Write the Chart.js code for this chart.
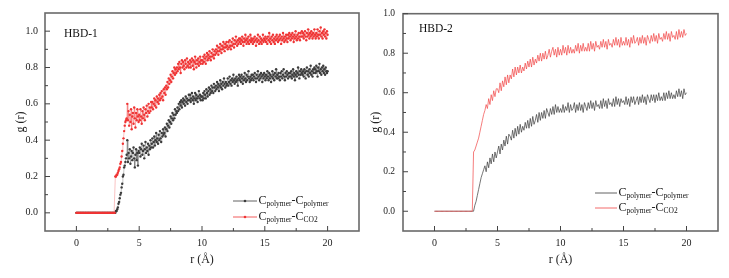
<!DOCTYPE html>
<html>
<head>
<meta charset="utf-8">
<script src="https://cdn.jsdelivr.net/npm/chart.js@4.4.1/dist/chart.umd.min.js"></script>
<style>
html, body { margin: 0; padding: 0; background: #fff; }
#wrap { position: relative; width: 729px; height: 278px; }
canvas { position: absolute; top: 0; }
#c1 { left: 0; }
#c2 { left: 365px; }
</style>
</head>
<body>
<div id="wrap">
<canvas id="c1" width="365" height="278"></canvas>
<canvas id="c2" width="364" height="278"></canvas>
</div>
<script>
// g(r). HBD-1: one value every 0.05 A, HBD-2: every 0.1 A, from r = 0 to 20
const rStep1 = 0.05;
const rStep2 = 0.1;

const hbd1Poly = [
  0,0,0,0,0,0,0,0,0,0, 0,0,0,0,0,0,0,0,0,0, 0,0,0,0,0,0,0,0,0,0,
  0,0,0,0,0,0,0,0,0,0, 0,0,0,0,0,0,0,0,0,0, 0,0,0,0,0,0,0,0,0,0,
  0,0,0.00,0.01,0.01,0.02,0.03,0.05,0.06,0.08,0.10,0.11,0.14,0.16,0.20,0.21,0.25,0.26,0.28,0.30,
  0.32,0.40,0.28,0.33,0.30,0.35,0.27,0.31,0.34,0.29,0.33,0.36,0.30,0.25,0.32,0.35,0.29,0.33,0.26,0.34,
  0.33,0.36,0.31,0.35,0.38,0.32,0.34,0.37,0.30,0.35,0.39,0.33,0.36,0.34,0.38,0.32,0.37,0.35,0.40,0.36,
  0.38,0.41,0.36,0.39,0.42,0.37,0.40,0.44,0.39,0.41,0.38,0.43,0.40,0.45,0.41,0.39,0.44,0.42,0.46,0.43,
  0.44,0.47,0.42,0.46,0.49,0.45,0.48,0.51,0.47,0.50,0.53,0.49,0.52,0.55,0.51,0.54,0.52,0.57,0.54,0.56,
  0.55,0.58,0.56,0.60,0.57,0.61,0.59,0.62,0.58,0.61,0.63,0.60,0.62,0.59,0.64,0.61,0.63,0.60,0.62,0.65,
  0.62,0.65,0.61,0.63,0.66,0.62,0.64,0.60,0.63,0.66,0.62,0.65,0.63,0.61,0.64,0.67,0.63,0.65,0.62,0.64,
  0.64,0.62,0.66,0.63,0.67,0.65,0.63,0.68,0.66,0.64,0.67,0.69,0.65,0.68,0.66,0.70,0.67,0.69,0.66,0.71,
  0.69,0.67,0.70,0.68,0.72,0.69,0.71,0.67,0.70,0.73,0.69,0.71,0.68,0.72,0.70,0.74,0.71,0.69,0.72,0.70,
  0.71,0.74,0.70,0.72,0.75,0.71,0.73,0.70,0.74,0.72,0.76,0.73,0.71,0.74,0.72,0.75,0.73,0.70,0.74,0.76,
  0.73,0.75,0.72,0.76,0.74,0.71,0.75,0.73,0.77,0.74,0.72,0.76,0.73,0.75,0.78,0.74,0.72,0.75,0.73,0.76,
  0.74,0.76,0.73,0.75,0.77,0.74,0.72,0.76,0.74,0.78,0.75,0.73,0.76,0.74,0.77,0.75,0.72,0.76,0.74,0.77,
  0.75,0.73,0.76,0.74,0.78,0.75,0.73,0.77,0.74,0.76,0.72,0.75,0.78,0.74,0.76,0.73,0.77,0.75,0.79,0.74,
  0.76,0.74,0.77,0.75,0.73,0.77,0.75,0.78,0.74,0.76,0.79,0.75,0.73,0.77,0.75,0.78,0.76,0.74,0.77,0.75,
  0.77,0.75,0.78,0.74,0.76,0.79,0.75,0.77,0.73,0.76,0.78,0.75,0.77,0.80,0.76,0.74,0.78,0.76,0.79,0.77,
  0.76,0.78,0.75,0.79,0.77,0.74,0.78,0.80,0.76,0.78,0.75,0.79,0.77,0.81,0.76,0.78,0.75,0.79,0.77,0.80,
  0.79,0.77,0.81,0.78,0.75,0.80,0.78,0.82,0.77,0.79,0.76,0.80,0.78,0.81,0.77,0.79,0.76,0.80,0.78,0.77,
  0.78
];

const hbd1CO2 = [
  0,0,0,0,0,0,0,0,0,0, 0,0,0,0,0,0,0,0,0,0, 0,0,0,0,0,0,0,0,0,0,
  0,0,0,0,0,0,0,0,0,0, 0,0,0,0,0,0,0,0,0,0, 0,0,0,0,0,0,0,0,0,0,
  0,0,0.20,0.20,0.21,0.21,0.22,0.23,0.24,0.25,0.27,0.28,0.31,0.34,0.38,0.41,0.45,0.48,0.50,0.51,
  0.52,0.60,0.51,0.56,0.48,0.54,0.50,0.57,0.46,0.53,0.55,0.49,0.58,0.52,0.47,0.55,0.51,0.57,0.53,0.50,
  0.54,0.51,0.57,0.53,0.49,0.56,0.52,0.58,0.54,0.51,0.57,0.55,0.59,0.53,0.56,0.60,0.55,0.58,0.56,0.61,
  0.58,0.61,0.57,0.60,0.63,0.59,0.62,0.58,0.64,0.61,0.63,0.60,0.65,0.62,0.66,0.63,0.67,0.64,0.62,0.68,
  0.66,0.69,0.65,0.70,0.68,0.72,0.69,0.74,0.71,0.73,0.76,0.72,0.75,0.78,0.74,0.77,0.80,0.76,0.79,0.77,
  0.80,0.78,0.82,0.79,0.83,0.80,0.77,0.82,0.84,0.80,0.83,0.81,0.79,0.84,0.82,0.80,0.85,0.81,0.83,0.80,
  0.82,0.84,0.80,0.83,0.85,0.81,0.84,0.79,0.83,0.86,0.82,0.80,0.84,0.82,0.85,0.81,0.83,0.86,0.82,0.84,
  0.84,0.82,0.86,0.83,0.87,0.85,0.82,0.86,0.88,0.84,0.87,0.85,0.89,0.86,0.84,0.88,0.86,0.90,0.87,0.85,
  0.89,0.87,0.90,0.88,0.92,0.89,0.87,0.91,0.89,0.93,0.90,0.88,0.92,0.90,0.94,0.91,0.89,0.93,0.91,0.94,
  0.92,0.90,0.94,0.91,0.95,0.92,0.90,0.94,0.92,0.96,0.93,0.91,0.95,0.93,0.97,0.94,0.92,0.95,0.93,0.96,
  0.94,0.96,0.93,0.95,0.97,0.94,0.92,0.96,0.94,0.98,0.95,0.93,0.96,0.94,0.97,0.93,0.95,0.98,0.94,0.96,
  0.95,0.93,0.96,0.94,0.97,0.95,0.92,0.96,0.94,0.98,0.95,0.93,0.97,0.94,0.96,0.93,0.95,0.98,0.94,0.96,
  0.95,0.97,0.94,0.96,0.93,0.97,0.95,0.99,0.94,0.96,0.93,0.97,0.95,0.98,0.94,0.96,0.93,0.97,0.95,0.98,
  0.96,0.94,0.97,0.95,0.98,0.96,0.93,0.97,0.95,0.99,0.96,0.94,0.97,0.95,0.98,0.96,0.94,0.98,0.96,0.99,
  0.97,0.95,0.98,0.96,0.99,0.97,0.94,0.98,0.96,1.00,0.97,0.95,0.98,0.96,0.99,0.97,0.95,0.99,0.97,1.00,
  0.97,0.99,0.96,0.98,1.00,0.97,0.95,0.99,0.97,1.01,0.98,0.96,0.99,0.97,1.00,0.98,0.96,0.99,0.97,1.01,
  0.98,0.96,0.99,0.97,1.01,0.98,0.96,1.00,0.98,1.02,0.97,0.99,0.96,1.00,0.98,1.01,0.97,0.99,0.96,1.00,
  0.98
];

const hbd2Poly = [
  0,0,0,0,0,0,0,0,0,0, 0,0,0,0,0,0,0,0,0,0, 0,0,0,0,0,0,0,0,0,0,
  0,0.00,0.03,0.05,0.08,0.11,0.14,0.17,0.19,0.21,
  0.23,0.20,0.25,0.22,0.27,0.24,0.29,0.25,0.30,0.27,
  0.30,0.33,0.29,0.34,0.31,0.36,0.33,0.38,0.34,0.39,
  0.38,0.36,0.41,0.37,0.42,0.38,0.43,0.39,0.44,0.40,
  0.43,0.41,0.45,0.42,0.46,0.42,0.47,0.43,0.48,0.44,
  0.46,0.49,0.45,0.50,0.46,0.50,0.47,0.51,0.47,0.52,
  0.50,0.48,0.52,0.49,0.53,0.49,0.54,0.50,0.53,0.50,
  0.52,0.50,0.54,0.50,0.53,0.51,0.55,0.50,0.54,0.51,
  0.52,0.55,0.50,0.54,0.51,0.55,0.51,0.54,0.50,0.55,
  0.53,0.51,0.55,0.52,0.56,0.52,0.55,0.51,0.56,0.53,
  0.54,0.52,0.56,0.52,0.57,0.53,0.56,0.52,0.57,0.54,
  0.55,0.53,0.57,0.53,0.58,0.54,0.57,0.53,0.57,0.55,
  0.56,0.54,0.58,0.54,0.57,0.53,0.58,0.55,0.58,0.54,
  0.56,0.58,0.54,0.58,0.55,0.59,0.55,0.58,0.54,0.59,
  0.57,0.55,0.59,0.56,0.59,0.55,0.59,0.56,0.60,0.56,
  0.58,0.56,0.60,0.56,0.60,0.57,0.61,0.57,0.60,0.57,
  0.59,0.57,0.61,0.58,0.62,0.58,0.61,0.57,0.62,0.59,
  0.60
];

const hbd2CO2 = [
  0,0,0,0,0,0,0,0,0,0, 0,0,0,0,0,0,0,0,0,0, 0,0,0,0,0,0,0,0,0,0,
  0,0.30,0.31,0.33,0.35,0.37,0.40,0.43,0.46,0.49,
  0.51,0.54,0.52,0.57,0.54,0.59,0.56,0.61,0.58,0.62,
  0.62,0.60,0.65,0.61,0.66,0.63,0.68,0.64,0.69,0.65,
  0.69,0.67,0.72,0.68,0.73,0.69,0.73,0.70,0.74,0.70,
  0.73,0.71,0.75,0.72,0.76,0.73,0.77,0.73,0.78,0.74,
  0.77,0.75,0.79,0.76,0.80,0.76,0.80,0.77,0.81,0.77,
  0.79,0.82,0.78,0.81,0.83,0.79,0.82,0.78,0.83,0.79,
  0.82,0.79,0.84,0.80,0.83,0.79,0.84,0.80,0.83,0.80,
  0.82,0.80,0.84,0.81,0.85,0.80,0.84,0.81,0.85,0.81,
  0.83,0.81,0.85,0.81,0.86,0.82,0.85,0.81,0.86,0.83,
  0.84,0.82,0.86,0.83,0.87,0.83,0.86,0.82,0.87,0.84,
  0.85,0.83,0.87,0.84,0.88,0.84,0.87,0.83,0.88,0.84,
  0.86,0.84,0.88,0.84,0.87,0.83,0.88,0.85,0.89,0.85,
  0.86,0.88,0.84,0.88,0.85,0.89,0.85,0.88,0.84,0.89,
  0.87,0.85,0.89,0.86,0.90,0.86,0.89,0.85,0.90,0.87,
  0.88,0.86,0.90,0.87,0.91,0.87,0.90,0.86,0.91,0.88,
  0.89,0.87,0.91,0.87,0.92,0.88,0.91,0.88,0.92,0.89,
  0.90
];

const xTicks = [0, 5, 10, 15, 20];
const xMinor = [2.5, 7.5, 12.5, 17.5];
const yTicks = [0, 0.2, 0.4, 0.6, 0.8, 1.0];
const yMinor = [0.1, 0.3, 0.5, 0.7, 0.9];

// legend text pieces: [text, isSubscript]
const labelPolyPoly = [['C', 0], ['polymer', 1], ['-C', 0], ['polymer', 1]];
const labelPolyCO2 = [['C', 0], ['polymer', 1], ['-C', 0], ['CO2', 1]];

const SERIF = '"Liberation Serif", "Times New Roman", serif';
const GREY = '#3b3b3b';

function toPoints(vals, step) {
  return vals.map((v, i) => ({ x: +(i * step).toFixed(2), y: v }));
}

function drawPieces(ctx, pieces, x, y) {
  ctx.textBaseline = 'middle';
  ctx.textAlign = 'left';
  for (const [t, sub] of pieces) {
    ctx.font = sub ? '7.5px ' + SERIF : '12px ' + SERIF;
    ctx.fillText(t, x, sub ? y + 3.5 : y);
    x += ctx.measureText(t).width;
  }
}

const panelPlugin = {
  id: 'panel',
  afterDatasetsDraw(chart, args, o) {
    const { ctx, chartArea: a, scales: { x, y } } = chart;
    ctx.save();
    // frame
    ctx.strokeStyle = '#6a6a6a';
    ctx.lineWidth = 1.6;
    ctx.strokeRect(a.left, a.top, a.right - a.left, a.bottom - a.top);
    // inward ticks
    ctx.strokeStyle = '#444';
    ctx.lineWidth = 1;
    ctx.beginPath();
    xTicks.forEach(v => { const p = x.getPixelForValue(v); ctx.moveTo(p, a.bottom); ctx.lineTo(p, a.bottom - 5); });
    xMinor.forEach(v => { const p = x.getPixelForValue(v); ctx.moveTo(p, a.bottom); ctx.lineTo(p, a.bottom - 3); });
    yTicks.forEach(v => { const p = y.getPixelForValue(v); ctx.moveTo(a.left, p); ctx.lineTo(a.left + 5, p); });
    yMinor.forEach(v => { const p = y.getPixelForValue(v); ctx.moveTo(a.left, p); ctx.lineTo(a.left + 3, p); });
    ctx.stroke();
    // panel tag
    ctx.fillStyle = '#111';
    ctx.font = '11.5px ' + SERIF;
    ctx.textBaseline = 'middle';
    ctx.fillText(o.tag, a.left + o.tagDx, a.top + o.tagDy);
    // legend
    chart.data.datasets.forEach((ds, i) => {
      const ly = a.bottom - o.legendRows[i];
      const x0 = a.right - o.legendDx;
      ctx.strokeStyle = ds.borderColor;
      ctx.lineWidth = 0.8;
      ctx.beginPath();
      ctx.moveTo(x0, ly);
      ctx.lineTo(x0 + o.lineLen, ly);
      ctx.stroke();
      if (o.marker) {
        ctx.fillStyle = ds.borderColor;
        ctx.beginPath();
        ctx.arc(x0 + o.lineLen / 2, ly, 1.3, 0, Math.PI * 2);
        ctx.fill();
      }
      ctx.fillStyle = '#111';
      drawPieces(ctx, ds.pieces, x0 + o.lineLen + 1.5, ly);
    });
    ctx.restore();
  }
};

function makeChart(id, polyVals, co2Vals, cfg) {
  return new Chart(document.getElementById(id), {
    type: 'scatter',
    data: {
      datasets: [
        {
          label: 'Cpolymer-Cpolymer', pieces: labelPolyPoly,
          data: toPoints(polyVals, cfg.step), showLine: true,
          borderColor: GREY, backgroundColor: GREY,
          borderWidth: cfg.lineWidth, pointRadius: cfg.pointRadius, pointBorderWidth: 0,
          order: 1
        },
        {
          label: 'Cpolymer-CCO2', pieces: labelPolyCO2,
          data: toPoints(co2Vals, cfg.step), showLine: true,
          borderColor: cfg.red, backgroundColor: cfg.red,
          borderWidth: cfg.lineWidth, pointRadius: cfg.pointRadius, pointBorderWidth: 0,
          order: 0
        }
      ]
    },
    options: {
      responsive: false,
      animation: false,
      devicePixelRatio: 1,
      layout: { padding: { top: 13, right: cfg.padRight, bottom: 0, left: 0 } },
      plugins: { legend: { display: false }, tooltip: { enabled: false }, panel: cfg.panel },
      scales: {
        x: {
          type: 'linear', min: -2.5, max: 22.5,
          afterBuildTicks: s => { s.ticks = xTicks.map(v => ({ value: v })); },
          afterFit: s => { s.height = 47; },
          grid: { display: false, drawTicks: false },
          border: { display: false },
          ticks: { padding: 6, color: '#222', font: { family: SERIF, size: 10 }, callback: v => String(v) },
          title: { display: true, text: 'r (Å)', color: '#222', font: { family: SERIF, size: 12 }, padding: { top: 0, bottom: 10.5 } }
        },
        y: {
          type: 'linear', min: -0.1, max: cfg.yMax,
          afterBuildTicks: s => { s.ticks = yTicks.map(v => ({ value: v })); },
          afterFit: s => { s.width = cfg.yWidth; },
          grid: { display: false, drawTicks: false },
          border: { display: false },
          ticks: { padding: cfg.yPad, color: '#222', font: { family: SERIF, size: cfg.yFont }, callback: v => v.toFixed(1) },
          title: { display: true, text: 'g (r)', color: '#222', font: { family: SERIF, size: 12 }, padding: { top: cfg.yTitlePad, bottom: 0 } }
        }
      }
    },
    plugins: [panelPlugin]
  });
}

makeChart('c1', hbd1Poly, hbd1CO2, {
  step: rStep1, lineWidth: 0.3, pointRadius: 1.2, red: '#ef3434', padRight: 6, yMax: 1.1,
  yWidth: 45, yPad: 7, yFont: 10, yTitlePad: 13.5,
  panel: { tag: 'HBD-1', tagDx: 19, tagDy: 21, legendDx: 126, lineLen: 24, legendRows: [30, 14], marker: true }
});

makeChart('c2', hbd2Poly, hbd2CO2, {
  step: rStep2, lineWidth: 0.7, pointRadius: 0, red: '#f04545', padRight: 11, yMax: 1.0,
  yWidth: 38, yPad: 8, yFont: 9.5, yTitlePad: 4,
  panel: { tag: 'HBD-2', tagDx: 16, tagDy: 15, legendDx: 123, lineLen: 22, legendRows: [38, 23], marker: false }
});
</script>
</body>
</html>
